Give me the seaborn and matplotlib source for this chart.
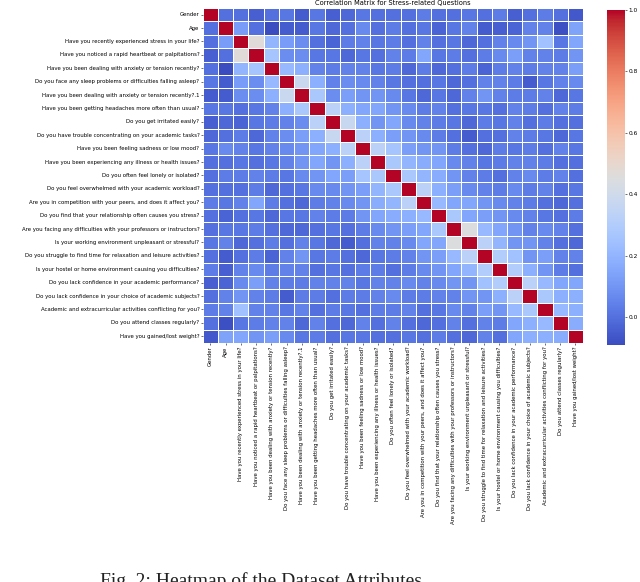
import numpy as np
import pandas as pd
import matplotlib
matplotlib.use("Agg")
import matplotlib.pyplot as plt
import seaborn as sns

labels = [
    "Gender",
    "Age",
    "Have you recently experienced stress in your life?",
    "Have you noticed a rapid heartbeat or palpitations?",
    "Have you been dealing with anxiety or tension recently?",
    "Do you face any sleep problems or difficulties falling asleep?",
    "Have you been dealing with anxiety or tension recently?.1",
    "Have you been getting headaches more often than usual?",
    "Do you get irritated easily?",
    "Do you have trouble concentrating on your academic tasks?",
    "Have you been feeling sadness or low mood?",
    "Have you been experiencing any illness or health issues?",
    "Do you often feel lonely or isolated?",
    "Do you feel overwhelmed with your academic workload?",
    "Are you in competition with your peers, and does it affect you?",
    "Do you find that your relationship often causes you stress?",
    "Are you facing any difficulties with your professors or instructors?",
    "Is your working environment unpleasant or stressful?",
    "Do you struggle to find time for relaxation and leisure activities?",
    "Is your hostel or home environment causing you difficulties?",
    "Do you lack confidence in your academic performance?",
    "Do you lack confidence in your choice of academic subjects?",
    "Academic and extracurricular activities conflicting for you?",
    "Do you attend classes regularly?",
    "Have you gained/lost weight?",
]

# Upper-triangle correlations (row i, columns i+1 .. 24)
upper_rows = [
    [0.00, 0.00, -0.04, 0.00, 0.02, -0.05, 0.02, -0.04, -0.02, 0.02, 0.00, 0.00, 0.00, 0.03, 0.00, 0.00, 0.02, 0.00, 0.03, -0.04, 0.00, 0.03, 0.00, -0.06],
    [0.12, 0.00, -0.09, -0.05, -0.05, 0.02, -0.02, 0.00, 0.07, 0.00, 0.03, 0.00, 0.02, -0.03, 0.02, 0.05, -0.05, -0.04, -0.03, 0.05, 0.05, -0.08, 0.14],
    [0.47, 0.20, 0.12, 0.08, 0.00, -0.03, 0.03, 0.05, 0.02, 0.03, 0.00, 0.05, 0.00, 0.02, -0.02, 0.00, 0.05, 0.07, 0.10, 0.25, 0.02, 0.15],
    [0.26, 0.08, 0.08, 0.02, 0.02, -0.02, 0.02, 0.00, 0.05, 0.03, 0.15, 0.02, 0.03, 0.00, 0.03, 0.07, 0.13, 0.05, 0.05, 0.03, 0.10],
    [0.22, 0.18, 0.05, 0.03, 0.05, 0.05, 0.02, 0.03, -0.02, 0.03, -0.02, 0.00, 0.03, -0.03, 0.03, 0.05, 0.03, 0.05, 0.05, 0.13],
    [0.38, 0.18, 0.05, 0.08, 0.07, 0.05, 0.02, 0.00, 0.00, 0.02, -0.02, 0.00, 0.05, 0.05, 0.03, -0.05, 0.02, 0.05, 0.07],
    [0.28, 0.08, 0.13, 0.10, 0.10, 0.07, 0.02, -0.02, 0.02, -0.02, 0.05, 0.10, 0.05, 0.03, 0.03, 0.05, -0.02, 0.02],
    [0.33, 0.18, 0.15, 0.15, 0.10, 0.07, 0.03, 0.05, 0.00, 0.02, 0.02, 0.00, 0.05, 0.03, 0.00, 0.05, 0.03],
    [0.37, 0.18, 0.10, 0.15, 0.07, 0.05, 0.03, 0.02, -0.02, 0.03, 0.02, 0.05, 0.00, 0.03, 0.00, 0.00],
    [0.33, 0.18, 0.13, 0.10, 0.07, 0.03, 0.00, -0.05, 0.00, 0.00, 0.05, 0.03, 0.02, -0.02, 0.02],
    [0.33, 0.26, 0.13, 0.10, 0.10, 0.03, 0.00, -0.02, 0.03, 0.02, 0.03, 0.00, 0.05, 0.02],
    [0.28, 0.20, 0.17, 0.15, 0.07, 0.05, 0.02, 0.03, 0.05, 0.05, 0.03, 0.00, 0.00],
    [0.28, 0.20, 0.17, 0.10, 0.05, 0.03, 0.00, 0.05, 0.07, 0.03, 0.05, 0.00],
    [0.33, 0.18, 0.13, 0.07, 0.05, 0.03, 0.07, 0.03, 0.05, 0.00, 0.02],
    [0.22, 0.15, 0.15, 0.10, 0.07, 0.05, 0.03, 0.00, -0.02, 0.00],
    [0.28, 0.15, 0.13, 0.10, 0.07, 0.05, 0.02, 0.00, 0.03],
    [0.45, 0.22, 0.15, 0.10, 0.05, 0.07, 0.05, 0.00],
    [0.33, 0.20, 0.10, 0.10, 0.05, 0.00, -0.02],
    [0.30, 0.25, 0.10, 0.13, 0.05, 0.05],
    [0.30, 0.18, 0.10, 0.03, 0.00],
    [0.33, 0.22, 0.15, 0.15],
    [0.28, 0.18, 0.18],
    [0.22, 0.18],
    [0.17],
]

n = len(labels)
corr = np.eye(n)
for i, row in enumerate(upper_rows):
    for k, v in enumerate(row):
        j = i + 1 + k
        corr[i, j] = v
        corr[j, i] = v
df = pd.DataFrame(corr, index=labels, columns=labels)

fig = plt.figure(figsize=(6.4, 5.82), dpi=100)
ax = fig.add_axes([0.317, 0.4107, 0.594, 0.5756])
cax = fig.add_axes([0.948, 0.407, 0.029, 0.576])

sns.heatmap(df, ax=ax, cbar_ax=cax, cmap="coolwarm", linewidths=0.5,
            linecolor="white", xticklabels=True, yticklabels=True)

ax.set_title("Correlation Matrix for Stress-related Questions", fontsize=4.8, pad=2)
ax.tick_params(axis="both", labelsize=3.9, length=1.5, width=0.4, pad=1)
ax.set_xticklabels(labels, rotation=90)
ax.set_yticklabels(labels, rotation=0)
cax.tick_params(labelsize=4.2, length=1.5, width=0.4, pad=1)
cax.set_yticks([0.0, 0.2, 0.4, 0.6, 0.8, 1.0])
for s in cax.spines.values():
    s.set_visible(False)

fig.text(0.408, 0.017, "Fig. 2: Heatmap of the Dataset Attributes", ha="center", va="top",
         family="Liberation Serif", fontsize=14, color="#222222")

fig.savefig("out.png", dpi=100)
